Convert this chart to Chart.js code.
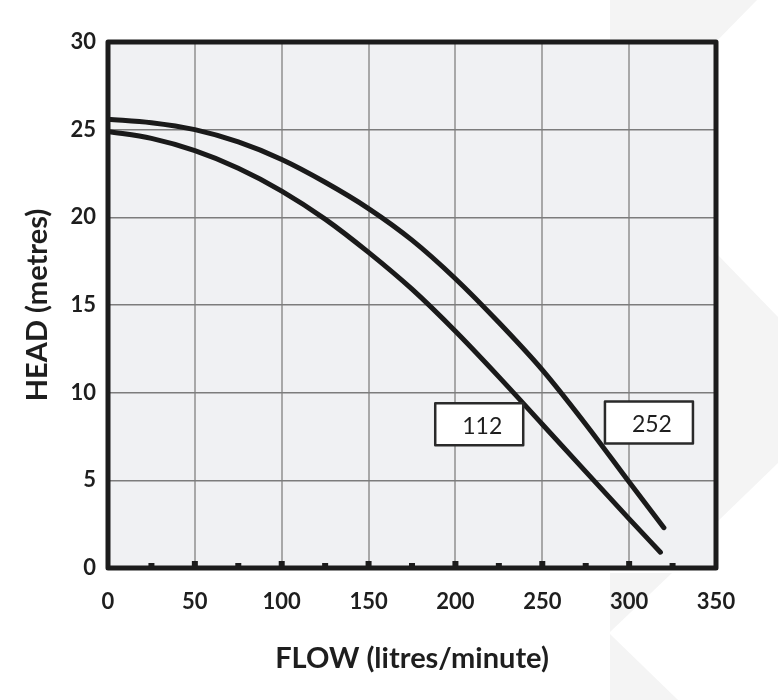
<!DOCTYPE html>
<html>
<head>
<meta charset="utf-8">
<script src="https://cdn.jsdelivr.net/npm/chart.js@4"></script>
<style>
html,body{margin:0;padding:0;background:#fff;}
canvas{display:block;}
</style>
</head>
<body>
<canvas id="c" width="778" height="700"></canvas>
<script>
// ---- data ----
const flow252 = [0, 25, 50, 75, 100, 125, 150, 175, 200, 225, 250, 275, 300, 320];
const head252 = [25.6, 25.4, 25.0, 24.3, 23.3, 22.0, 20.5, 18.7, 16.5, 14.0, 11.3, 8.2, 4.9, 2.3];
const flow112 = [0, 25, 50, 75, 100, 125, 150, 175, 200, 225, 250, 275, 300, 318];
const head112 = [24.9, 24.5, 23.8, 22.8, 21.5, 19.9, 18.0, 15.9, 13.5, 10.9, 8.2, 5.5, 2.8, 0.9];
const seriesNames = ["112", "252"];
const labelFlow = [213.7, 311.4];
const labelHead = [8.2, 8.3];
const xTicks = [0, 50, 100, 150, 200, 250, 300, 350];
const yTicks = [0, 5, 10, 15, 20, 25, 30];
const minorTicks = [25, 75, 125, 175, 225, 275, 325];

const toPts = (xs, ys) => xs.map((x, i) => ({x: x, y: ys[i]}));

const FONT = "Lato, 'Open Sans', sans-serif";

const decor = {
  id: 'decor',
  beforeDraw(chart) {
    const ctx = chart.ctx;
    const a = chart.chartArea;
    ctx.save();
    // faint watermark shapes
    ctx.fillStyle = '#f4f4f4';
    const polys = [
      [[610,0],[757,0],[610,150]],
      [[716,253],[778,317],[778,463],[716,523]],
      [[610,573],[672,573],[610,632]],
      [[610,634],[678,700],[610,700]]
    ];
    polys.forEach(p => {
      ctx.beginPath();
      ctx.moveTo(p[0][0], p[0][1]);
      for (let i = 1; i < p.length; i++) ctx.lineTo(p[i][0], p[i][1]);
      ctx.closePath();
      ctx.fill();
    });
    // plot background
    ctx.fillStyle = '#f0f1f3';
    ctx.fillRect(a.left, a.top, a.right - a.left, a.bottom - a.top);
    ctx.restore();
  },
  afterDatasetsDraw(chart) {
    const ctx = chart.ctx;
    const a = chart.chartArea;
    const xs = chart.scales.x, ys = chart.scales.y;
    ctx.save();
    // minor / major bottom ticks
    ctx.fillStyle = '#1c1c1c';
    minorTicks.forEach(v => {
      const px = xs.getPixelForValue(v);
      ctx.fillRect(px - 3, a.bottom - 5, 6, 5);
    });
    xTicks.slice(1, -1).forEach(v => {
      const px = xs.getPixelForValue(v);
      ctx.fillRect(px - 3, a.bottom - 7, 6, 7);
    });
    // frame
    ctx.strokeStyle = '#1c1c1c';
    ctx.lineWidth = 5;
    ctx.lineJoin = 'round';
    ctx.strokeRect(a.left, a.top, a.right - a.left, a.bottom - a.top);
    // series label boxes
    seriesNames.forEach((name, i) => {
      const cx = xs.getPixelForValue(labelFlow[i]);
      const cy = ys.getPixelForValue(labelHead[i]);
      const w = 88, h = 42;
      ctx.fillStyle = '#ffffff';
      ctx.fillRect(cx - w/2, cy - h/2, w, h);
      ctx.strokeStyle = '#2a2a2a';
      ctx.lineWidth = 2.5;
      ctx.strokeRect(cx - w/2, cy - h/2, w, h);
      ctx.fillStyle = '#1e1e1e';
      ctx.font = "23px " + FONT;
      ctx.textAlign = 'center';
      ctx.textBaseline = 'middle';
      ctx.fillText(name, cx + 3, cy + 2);
    });
    ctx.restore();
  }
};

new Chart(document.getElementById('c'), {
  type: 'line',
  data: {
    datasets: [
      {label: seriesNames[1], data: toPts(flow252, head252)},
      {label: seriesNames[0], data: toPts(flow112, head112)}
    ].map(d => Object.assign(d, {
      borderColor: '#1a1a1a',
      borderWidth: 5,
      borderCapStyle: 'round',
      pointRadius: 0,
      cubicInterpolationMode: 'monotone',
      fill: false
    }))
  },
  options: {
    responsive: false,
    animation: false,
    devicePixelRatio: 1,
    layout: {padding: {left: 0, right: 62, top: 42, bottom: 0}},
    plugins: {legend: {display: false}, tooltip: {enabled: false}},
    scales: {
      x: {
        type: 'linear', min: 0, max: 350,
        afterFit(s) { s.height = 132; },
        afterBuildTicks(s) { s.ticks = xTicks.map(v => ({value: v})); },
        grid: {color: '#a8a8a8', lineWidth: 2, drawTicks: false},
        border: {display: false},
        ticks: {padding: 21, color: '#1e1e1e', font: {family: FONT, size: 22, weight: 'bold'}, maxRotation: 0},
        title: {display: true, text: 'FLOW (litres/minute)', color: '#1e1e1e',
                font: {family: FONT, size: 29, weight: 'bold'}, padding: {top: 4, bottom: 24}}
      },
      y: {
        type: 'linear', min: 0, max: 30,
        afterFit(s) { s.width = 108; },
        afterBuildTicks(s) { s.ticks = yTicks.map(v => ({value: v})); },
        grid: {color: '#7c7c7c', lineWidth: 1.5, drawTicks: false},
        border: {display: false},
        ticks: {padding: 12, color: '#1e1e1e', font: {family: FONT, size: 22, weight: 'bold'}},
        title: {display: true, text: 'HEAD (metres)', color: '#1e1e1e',
                font: {family: FONT, size: 29, weight: 'bold'}, padding: {top: 20, bottom: 4}}
      }
    }
  },
  plugins: [decor]
});
</script>
</body>
</html>
